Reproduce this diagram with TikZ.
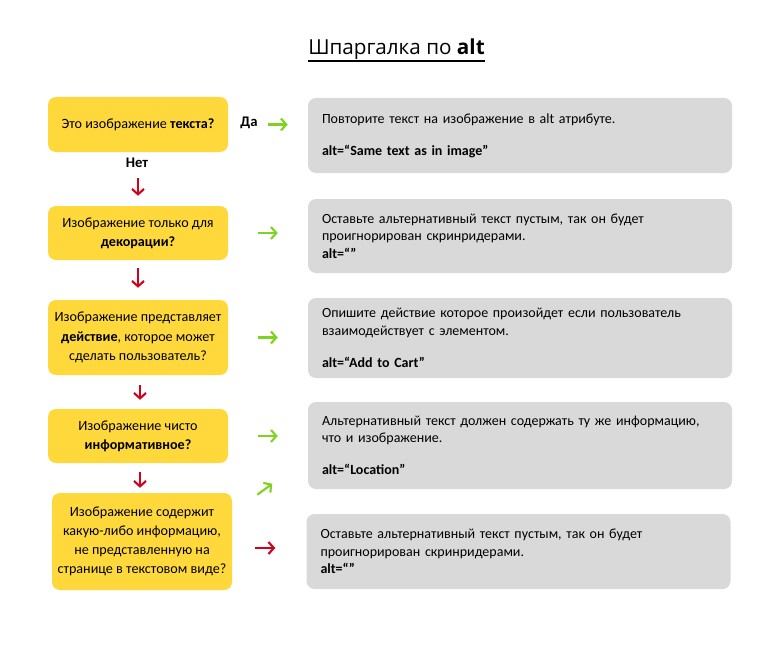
\documentclass[tikz,border=0pt]{standalone}
\usepackage{fontspec}
\setmainfont{Carlito}
\newfontfamily\titlefont{Open Sans}
\usetikzlibrary{arrows.meta,positioning}

\definecolor{qyellow}{HTML}{FFD83B}
\definecolor{agray}{HTML}{D9D9D9}
\definecolor{yesgreen}{HTML}{7ED321}
\definecolor{nored}{HTML}{D0021B}

\tikzset{
  qbox/.style={fill=qyellow, rounded corners=6pt, align=center,
    minimum width=135pt, inner xsep=1pt, inner ysep=2pt, font=\fontsize{10.6}{14.4}\selectfont},
  abox/.style={fill=agray, rounded corners=6pt, text width=297pt, align=left,
    minimum width=318pt, inner xsep=10.5pt, font=\fontsize{10.5}{13.1}\selectfont},
  yes/.style={draw=yesgreen, line width=1.6pt, -{Straight Barb[length=4pt,width=9pt]}},
  no/.style={draw=nored, line width=1.6pt, -{Straight Barb[length=4pt,width=9pt]}},
  tag/.style={font=\fontsize{11}{13.2}\selectfont\bfseries}
}

\begin{document}
\begin{tikzpicture}[x=0.75pt,y=-0.75pt]
		\useasboundingbox (0,0) rectangle (780,656);
		
		% title
		\node[inner sep=0pt, anchor=base, font=\titlefont\fontsize{15.5}{18}\selectfont] (title) at (396.5,55) {Шпаргалка по \textbf{alt}};
		\draw[line width=1.5pt] ([yshift=-4.5pt]title.base west) -- ([yshift=-4.5pt]title.base east);
		
		% questions
		\node[qbox, minimum height=41.25pt] (q1) at (138,124.5) {Это изображение \textbf{текста?}};
		\node[qbox, minimum height=40.5pt] (q2) at (138,233) {Изображение только для\\ \textbf{декорации?}};
		\node[qbox, minimum height=56.25pt] (q3) at (138,337.5) {Изображение представляет\\ \textbf{действие}, которое может\\ сделать пользователь?};
		\node[qbox, minimum height=40.5pt] (q4) at (138,436) {Изображение чисто\\ \textbf{информативное?}};
		\node[qbox, minimum height=72.75pt] (q5) at (142,541.5) {Изображение содержит\\ какую-либо информацию,\\ не представленную на\\ странице в текстовом виде?};
		
		% answers
		\node[abox, minimum height=56.25pt] (a1) at (520,135.5) {Повторите текст на изображение в alt атрибуте.\\[11pt] \textbf{alt=“Same text as in image”}};
		\node[abox, minimum height=55.5pt] (a2) at (520,236) {Оставьте альтернативный текст пустым, так он будет\\ проигнорирован скринридерами.\\ \textbf{alt=“”}};
		\node[abox, minimum height=60pt] (a3) at (520,338) {Опишите действие которое произойдет если пользователь\\ взаимодействует с элементом.\\[11pt] \textbf{alt=“Add to Cart”}};
		\node[abox, minimum height=65.25pt] (a4) at (520,445.5) {Альтернативный текст должен содержать ту же информацию,\\ что и изображение.\\[11pt] \textbf{alt=“Location”}};
		\node[abox, minimum height=56.25pt, minimum width=317.25pt] (a5) at (518.5,551.5) {Оставьте альтернативный текст пустым, так он будет\\ проигнорирован скринридерами.\\ \textbf{alt=“”}};
		
		\node[tag] (yes1) at (249,123) {Да};
		\node[tag] (no1) at (137,163) {Нет};
		
		% yes
		\draw[yes, shorten <=30pt, shorten >=15pt] (q1.east) -- (q1.east -| a1.west);
		\draw[yes, shorten <=22.5pt, shorten >=22.5pt] (q2.east) -- (q2.east -| a2.west);
		\draw[yes, shorten <=22.5pt, shorten >=22.5pt] (q3.east) -- (q3.east -| a3.west);
		\draw[yes, shorten <=22.5pt, shorten >=22.5pt] (q4.east) -- (q4.east -| a4.west);
		\draw[yes] ([shift={(25,2)}]q5.north east) -- ++(15,-11);
		
		% no
		\draw[no, shorten <=19.5pt, shorten >=7.5pt] (q1.south) -- (q2.north);
		\draw[no, shorten <=6pt, shorten >=9pt] (q2.south) -- (q3.north);
		\draw[no, shorten <=7.5pt, shorten >=6.75pt] ([xshift=1.5pt]q3.south) -- ([xshift=1.5pt]q4.north);
		\draw[no, shorten <=6.75pt, shorten >=3.75pt] ([xshift=1.5pt]q4.south) -- ([xshift=1.5pt]q4.south |- q5.north);
		\draw[no] ([shift={(23,6.5)}]q5.east) -- ++(20,0);
		\end{tikzpicture}
\end{document}
